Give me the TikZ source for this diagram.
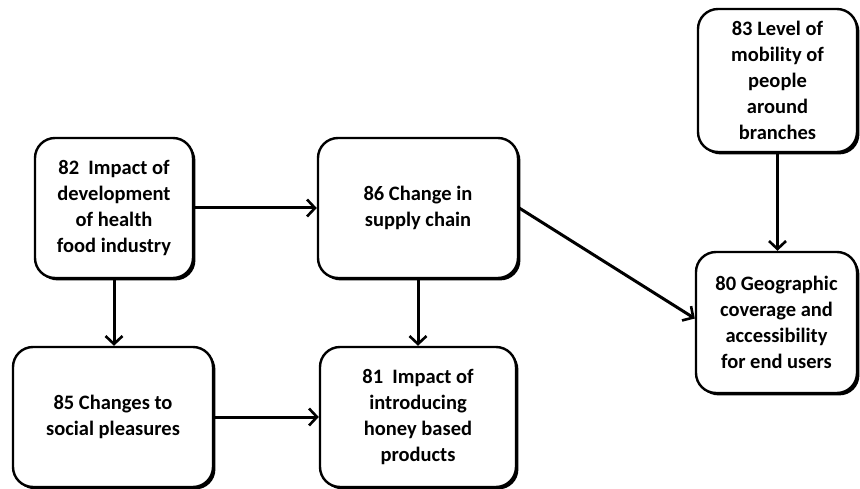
\documentclass[tikz,border=0pt]{standalone}
\usepackage{fontspec}
\setmainfont{Carlito}
\usetikzlibrary{arrows.meta,shadows}
\begin{document}
\begin{tikzpicture}[x=1pt,y=-1pt,
  factor/.style={draw=black, line width=2.4pt, rounded corners=20pt, fill=white,
    align=center, inner sep=4pt,
    font=\fontsize{20.5}{26}\selectfont\bfseries,
    drop shadow={shadow xshift=2.4pt, shadow yshift=-2.4pt, opacity=1, fill=black}},
  link/.style={line width=3pt, -{Straight Barb[length=8pt,width=17pt,line width=2.6pt]}}]
\useasboundingbox (0,0) rectangle (860,489);
% factor boxes
\node[factor, minimum width=158pt, minimum height=140pt] (n82) at (114,208)
  {82\ \ Impact of\\development\\of health\\food industry};
\node[factor, minimum width=200pt, minimum height=140pt] (n86) at (418,208)
  {86 Change in\\supply chain};
\node[factor, minimum width=159pt, minimum height=143pt] (n83) at (777.5,80.5)
  {83 Level of\\mobility of\\people\\around\\branches};
\node[factor, minimum width=161pt, minimum height=141pt] (n80) at (776.5,322.5)
  {80 Geographic\\coverage and\\accessibility\\for end users};
\node[factor, minimum width=200pt, minimum height=140pt] (n85) at (113,417)
  {85 Changes to\\social pleasures};
\node[factor, minimum width=196pt, minimum height=140pt] (n81) at (418,417)
  {81\ \ Impact of\\introducing\\honey based\\products};
% influences
\draw[link] (n82.east) -- (n86.west);
\draw[link] (n82.south) -- (n82.south |- n85.north);
\draw[link] (n86.south) -- (n86.south |- n81.north);
\draw[link] (n85.east) -- (n81.west);
\draw[link] (n86.east) -- ([yshift=4pt]n80.west);
\draw[link] (n83.south) -- (n83.south |- n80.north);
\end{tikzpicture}
\end{document}
